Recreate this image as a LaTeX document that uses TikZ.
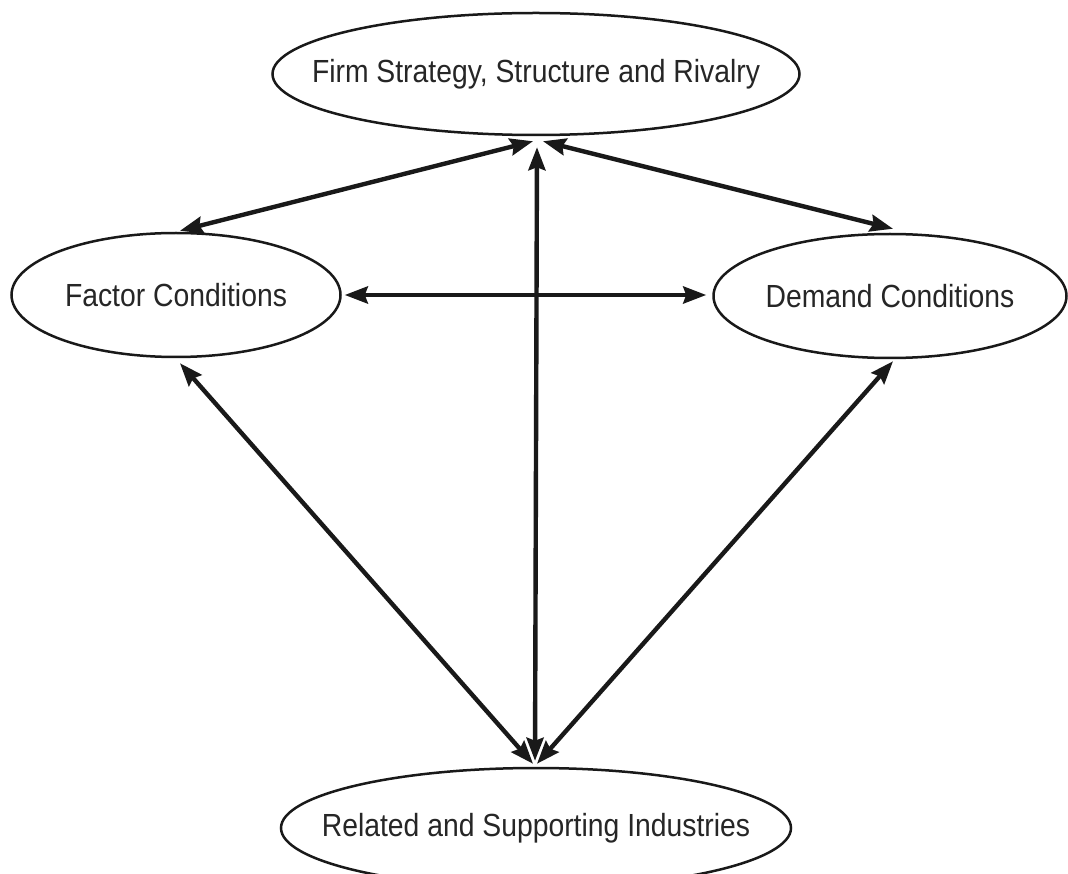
\documentclass[tikz,border=0pt]{standalone}
\usepackage{fontspec}
\setmainfont[FakeStretch=0.885]{Liberation Sans}
\usetikzlibrary{shapes.geometric,arrows.meta}
\begin{document}
\begin{tikzpicture}[x=1pt,y=-1pt,
  ell/.style={draw=black!90, line width=2.5pt, ellipse, inner sep=0pt},
  lbl/.style={font=\fontsize{32}{38}\selectfont, text=black!85, inner sep=0pt},
  tip/.tip={Stealth[length=23pt,width=17pt,inset=3pt]},
  conn/.style={line width=4.4pt, draw=black!90, tip-tip}]
\useasboundingbox (0,0) rectangle (1068,874);
\fill[white] (0,0) rectangle (1068,874);
\node[ell, minimum width=527pt, minimum height=122pt] (top) at (536,74) {};
\node[lbl] (toplbl) at (top.center) {Firm Strategy, Structure and Rivalry};
\node[ell, minimum width=329pt, minimum height=124pt] (fac) at (176,295) {};
\node[lbl] (faclbl) at (fac.center) {Factor Conditions};
\node[ell, minimum width=353pt, minimum height=124pt] (dem) at (890,296) {};
\node[lbl] (demlbl) at (dem.center) {Demand Conditions};
\node[ell, minimum width=510pt, minimum height=120pt] (bot) at (536,828) {};
\node[lbl] (botlbl) at (bot.center) {Related and Supporting Industries};
\draw[conn] ([xshift=-3pt,yshift=-5pt]top.south) -- ([xshift=4pt,yshift=1pt]fac.north);
\draw[conn] ([xshift=7pt,yshift=-5pt]top.south) -- ([xshift=3pt,yshift=4pt]dem.north);
\draw[conn] ([xshift=1pt,yshift=-11pt]top.south) -- ([xshift=-1pt,yshift=6pt]bot.north);
\draw[conn] ([xshift=3pt]fac.east) -- ([xshift=-6pt,yshift=1pt]dem.west);
\draw[conn] ([xshift=4pt,yshift=-5pt]fac.south) -- ([xshift=-3pt,yshift=3pt]bot.north);
\draw[conn] ([xshift=3pt,yshift=-2pt]dem.south) -- ([xshift=1pt,yshift=3pt]bot.north);
\end{tikzpicture}
\end{document}
